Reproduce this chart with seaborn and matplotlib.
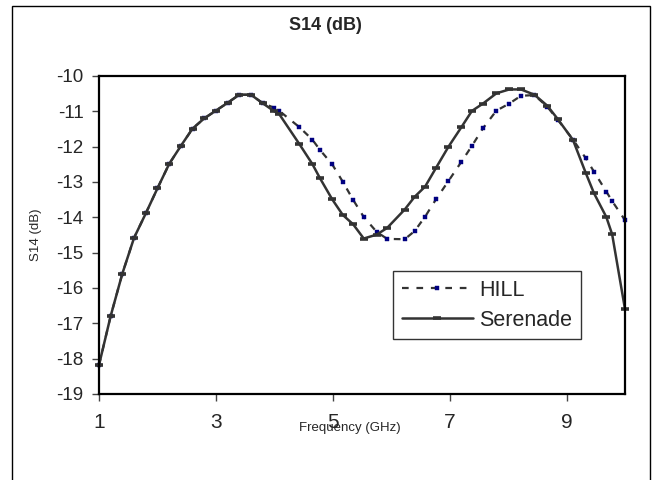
import matplotlib
matplotlib.use('Agg')
import matplotlib.pyplot as plt
import seaborn as sns
from matplotlib.patches import Rectangle

#Data (frequency in GHz, S14 in dB)
freq = [1.0, 1.2, 1.4, 1.6, 1.8, 2.0, 2.2, 2.4, 2.6, 2.8, 3.0, 3.2, 3.4, 3.6, 3.8,
        4.0, 4.08, 4.43, 4.65, 4.78, 4.99, 5.17, 5.35, 5.53,
        5.75, 5.93, 6.23, 6.4, 6.58, 6.77, 6.98, 7.2, 7.38, 7.57,
        7.8, 8.02, 8.22, 8.45, 8.67, 8.85, 9.11, 9.33, 9.47, 9.68, 9.78, 10.0]

serenade = [-18.18, -16.79, -15.59, -14.58, -13.89, -13.18, -12.49, -11.98, -11.49, -11.2,
            -10.98, -10.76, -10.53, -10.53, -10.77,
            -11.0, -11.07, -11.93, -12.49, -12.89, -13.49, -13.93, -14.2, -14.6,
            -14.49, -14.3, -13.78, -13.42, -13.13, -12.59, -12.0, -11.45, -10.99, -10.78,
            -10.49, -10.38, -10.38, -10.53, -10.84, -11.22, -11.81, -12.75, -13.32, -13.99, -14.48, -16.6]

hill = [-18.18, -16.79, -15.59, -14.58, -13.89, -13.18, -12.49, -11.98, -11.49, -11.2,
        -10.98, -10.76, -10.53, -10.53, -10.77,
        -10.9, -10.98, -11.45, -11.8, -12.09, -12.5, -12.99, -13.51, -13.99,
        -14.41, -14.61, -14.62, -14.39, -13.98, -13.48, -12.97, -12.43, -11.98, -11.48,
        -10.98, -10.78, -10.56, -10.54, -10.87, -11.24, -11.8, -12.33, -12.71, -13.27, -13.54, -14.08]

x_ticks = [1, 3, 5, 7, 9]
y_ticks = [-19, -18, -17, -16, -15, -14, -13, -12, -11, -10]
y_tick_labels = ['-19', '-18', '-17', '-16', '-15', '-14', '-13', '-12', '-11', '-10']

sns.set_style('white')
plt.rcParams['font.family'] = ['Liberation Sans', 'DejaVu Sans']

fig = plt.figure(figsize=(6.58, 4.8), dpi=100)
ax = fig.add_axes([99 / 658, 1 - 394 / 480, 526 / 658, 318 / 480])

#HILL first so that Serenade sits on top where they overlap
sns.lineplot(x=freq, y=hill, ax=ax, color='#333333', lw=1.6, linestyle=(0, (3, 3.5)),
             marker='s', markersize=2.9, markerfacecolor='#000080',
             markeredgecolor='#000080', markeredgewidth=0.3,
             label='HILL', clip_on=False)
sns.lineplot(x=freq, y=serenade, ax=ax, color='#333333', lw=1.8,
             marker='_', markersize=5.5, markeredgecolor='#333333', markeredgewidth=2.6,
             label='Serenade', clip_on=False)

ax.set_xlim(1, 10)
ax.set_ylim(-19, -10)
ax.set_xticks(x_ticks)
ax.set_xticklabels([str(t) for t in x_ticks])
ax.set_yticks(y_ticks)
ax.set_yticklabels(y_tick_labels)
ax.tick_params(axis='x', bottom=True, direction='out', length=5, width=1,
               color='#444444', labelsize=15, pad=9)
ax.tick_params(axis='y', left=True, direction='out', length=5, width=1,
               color='#444444', labelsize=13.5, pad=6)
for s in ax.spines.values():
    s.set_visible(True)
    s.set_color('black')
    s.set_linewidth(1.6)

ax.set_xlabel('Frequency (GHz)', fontsize=9.5)
ax.xaxis.set_label_coords(0.477, -0.088)
ax.set_ylabel('S14 (dB)', fontsize=9.5)
ax.yaxis.set_label_coords(-0.108, 0.5)

leg = ax.legend(loc='upper left', bbox_to_anchor=(0.559, 0.387), fontsize=15.5,
                frameon=True, fancybox=False, framealpha=1, edgecolor='#333333',
                handlelength=3.3, handletextpad=0.3, borderpad=0.4,
                labelspacing=0.42, borderaxespad=0)
leg.get_frame().set_linewidth(1.0)

fig.text(325 / 658, 1 - 25 / 480, 'S14 (dB)', ha='center', va='center',
         fontsize=13, fontweight='bold')

#Outer chart border
fig.patches.append(Rectangle((12 / 658, -0.1), (650 - 12) / 658, 1.1 - 6 / 480,
                             transform=fig.transFigure, fill=False,
                             edgecolor='black', lw=1))

fig.savefig('out.png', dpi=100)
